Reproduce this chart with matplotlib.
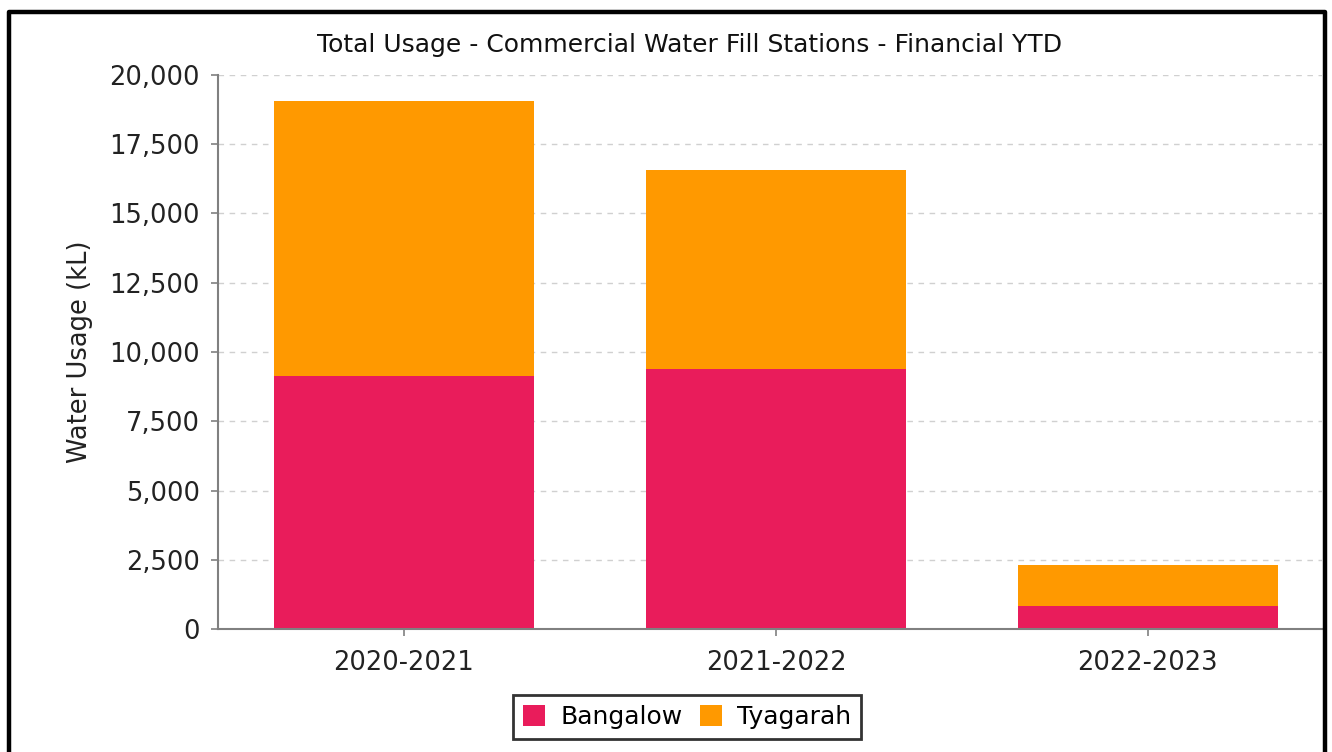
import matplotlib
matplotlib.use("Agg")
import matplotlib.pyplot as plt
from matplotlib.lines import Line2D
from matplotlib.patches import Patch

plt.rcParams["font.family"] = ["DejaVu Sans"]
plt.rcParams["font.sans-serif"] = ["DejaVu Sans"]

categories = ["2020-2021", "2021-2022", "2022-2023"]
bangalow = [9130, 9390, 830]
tyagarah = [9930, 7180, 1490]
series_names = ["Bangalow", "Tyagarah"]
colors = ["#E91C5B", "#FF9900"]
yticks = [0, 2500, 5000, 7500, 10000, 12500, 15000, 17500, 20000]

W, H = 1332, 752
fig = plt.figure(figsize=(W / 100, H / 100), dpi=100)
fig.patch.set_facecolor("white")

ax = fig.add_axes([218 / W, 1 - 629 / H, (1322 - 218) / W, (629 - 75) / H])
x = list(range(len(categories)))
ax.bar(x, bangalow, width=0.7, color=colors[0], zorder=2)
ax.bar(x, tyagarah, width=0.7, bottom=bangalow, color=colors[1], zorder=2)

ax.set_xlim(-0.5, 2.468)
ax.set_ylim(0, 20000)
ax.set_yticks(yticks)
ax.set_yticklabels([f"{v:,}" for v in yticks], family="DejaVu Sans", fontsize=18.5)
ax.set_xticks(x)
ax.set_xticklabels(categories, family="DejaVu Sans", fontsize=18.5)
ax.yaxis.grid(True, linestyle=(0, (4, 4)), color="#D0D0D0", linewidth=1, zorder=0)
ax.set_axisbelow(True)
for s in ["top", "right"]:
    ax.spines[s].set_visible(False)
for s in ["left", "bottom"]:
    ax.spines[s].set_color("#808080")
    ax.spines[s].set_linewidth(1.5)
ax.tick_params(axis="both", colors="#808080", labelcolor="#222222", length=5, width=1.2)
ax.tick_params(axis="y", pad=8)
ax.tick_params(axis="x", pad=10)

ax.set_ylabel("Water Usage (kL)", fontsize=18.5, color="#222222", labelpad=12,
              family="DejaVu Sans")

fig.text(690 / W, 1 - 45 / H, "Total Usage - Commercial Water Fill Stations - Financial YTD",
         ha="center", va="center", fontsize=18, family="DejaVu Sans", color="#111111")

handles = [Patch(facecolor=c, edgecolor="none") for c in colors]
leg = fig.legend(handles, series_names, loc="center", bbox_to_anchor=(687 / W, 1 - 717 / H),
                 ncol=2, frameon=True, fancybox=False, handlelength=0.9,
                 handleheight=0.9, handletextpad=0.6, columnspacing=0.7, borderpad=0.4,
                 prop={"family": "DejaVu Sans", "size": 18})
leg.get_frame().set_edgecolor("black")
leg.get_frame().set_linewidth(2)

# outer frame (left, top, right)
fx = [8.5 / W, 8.5 / W, 1324.5 / W, 1324.5 / W]
fy = [0, 1 - 11.5 / H, 1 - 11.5 / H, 0]
fig.add_artist(Line2D(fx, fy, color="black", linewidth=3.2, transform=fig.transFigure))

fig.savefig("out.png", dpi=100)
